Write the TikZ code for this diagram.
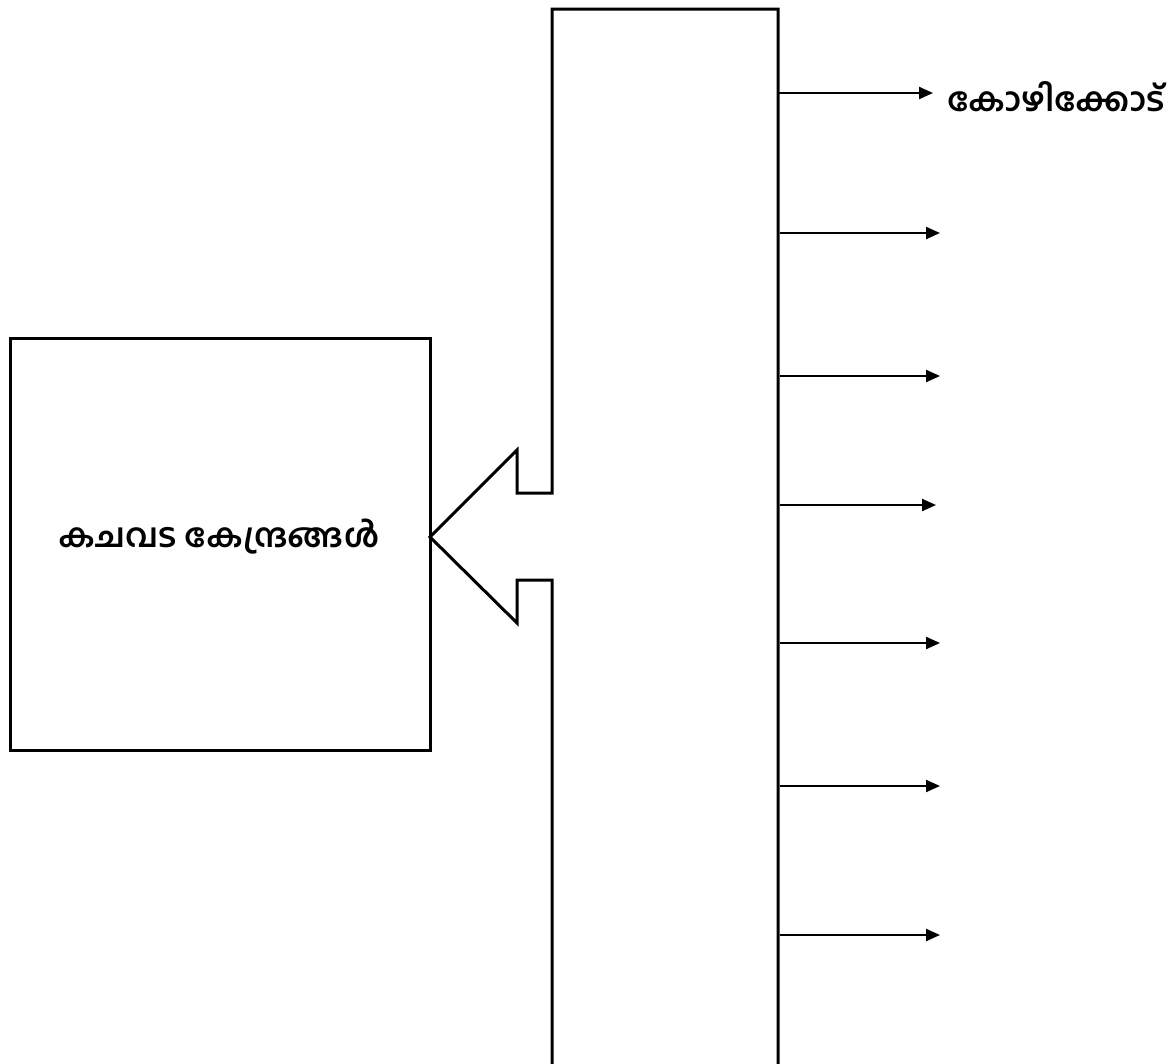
\documentclass[tikz,border=0pt]{standalone}
\usepackage{fontspec}
\newfontfamily\mlfont[Script=Malayalam]{Hind Kochi}
\usetikzlibrary{arrows.meta}
\begin{document}
\begin{tikzpicture}[x=1pt,y=-1pt,
  outline/.style={draw=black,line width=3pt,line join=miter},
  flow/.style={draw=black,line width=2.2pt,-{Triangle[length=14pt,width=12pt]}},
  lbl/.style={font=\mlfont\bfseries\fontsize{33}{38}\selectfont,inner sep=0pt}]
\useasboundingbox (0,0) rectangle (1172,1063);
% left box
\node[draw=black,line width=3pt,minimum width=420pt,minimum height=412pt,inner sep=0pt] (box) at (220,544) {};
\node[lbl] (boxtext) at (219,537) {കചവട കേന്ദ്രങ്ങൾ};
% tall shape with arrow
\draw[outline] (552,1070) -- (552,580) -- (517,580) -- (517,623) -- (430,537)
  -- (517,450) -- (517,493) -- (552,493) -- (552,9) -- (778,9) -- (778,1070);
\coordinate (s0) at (778,93);
\coordinate (s1) at (780,233);
\coordinate (s2) at (780,376);
\coordinate (s3) at (780,505);
\coordinate (s4) at (780,643);
\coordinate (s5) at (780,786);
\coordinate (s6) at (780,935);
\coordinate (e0) at (933,93);
\coordinate (e1) at (940,233);
\coordinate (e2) at (940,376);
\coordinate (e3) at (936,505);
\coordinate (e4) at (940,643);
\coordinate (e5) at (940,786);
\coordinate (e6) at (940,935);
\node[lbl,anchor=west] (kozhikode) at (947,97) {കോഴിക്കോട്};
\draw[flow] (s0) -- (e0);
\draw[flow] (s1) -- (e1);
\draw[flow] (s2) -- (e2);
\draw[flow] (s3) -- (e3);
\draw[flow] (s4) -- (e4);
\draw[flow] (s5) -- (e5);
\draw[flow] (s6) -- (e6);
\end{tikzpicture}
\end{document}
